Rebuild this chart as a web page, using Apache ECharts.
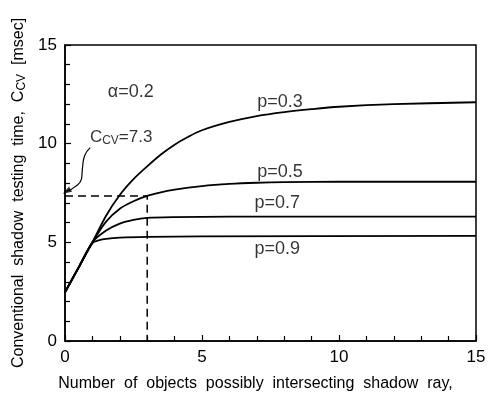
<!DOCTYPE html>
<html>
<head>
<meta charset="utf-8">
<script src="https://cdn.jsdelivr.net/npm/echarts@6/dist/echarts.min.js"></script>
<style>
  html, body { margin: 0; padding: 0; background: #fff; }
  #chart { width: 493px; height: 398px; }
</style>
</head>
<body>
<div id="chart"></div>
<script>
  // values
  const xP03 = [0, 0.5, 1, 1.5, 2, 2.5, 3, 3.5, 4, 4.5, 5, 6, 7, 8, 9, 10, 12, 15];
  const yP03 = [2.47, 3.74, 5.0, 6.35, 7.4, 8.2, 8.85, 9.45, 9.95, 10.35, 10.68, 11.1, 11.4, 11.6, 11.75, 11.87, 12.0, 12.1];
  const xP05 = [0, 0.5, 1, 1.5, 2, 2.5, 3, 3.5, 4, 5, 6, 7, 8, 10, 15];
  const yP05 = [2.47, 3.74, 5.0, 6.05, 6.7, 7.08, 7.35, 7.53, 7.67, 7.85, 7.96, 8.02, 8.05, 8.07, 8.07];
  const xP07 = [0, 0.5, 1, 1.5, 2, 2.5, 3, 4, 6, 15];
  const yP07 = [2.47, 3.73, 5.0, 5.6, 5.95, 6.14, 6.24, 6.28, 6.3, 6.3];
  const xP09 = [0, 0.5, 1, 1.25, 1.5, 2, 3, 5, 15];
  const yP09 = [2.47, 3.72, 4.96, 5.11, 5.18, 5.24, 5.28, 5.3, 5.33];

  const ccv = 7.35;       // C_CV read at n = 3
  const nMark = 3;
  const leaderX = [0.92, 0.72, 0.64, 0.6, 0.4, 0.06];
  const leaderY = [9.8, 9.4, 8.8, 8.2, 7.85, 7.58];

  // annotation texts and their data positions
  const notes = [
    { x: 2.4, y: 12.6, text: 'α=0.2' },
    { x: 7.85, y: 12.1, text: 'p=0.3' },
    { x: 7.85, y: 8.55, text: 'p=0.5' },
    { x: 7.75, y: 6.97, text: 'p=0.7' },
    { x: 7.75, y: 4.65, text: 'p=0.9' }
  ];

  const zip = (xs, ys) => xs.map((x, i) => [x, ys[i]]);
  const font = '"Liberation Sans", Arial, sans-serif';

  const curve = (name, xs, ys) => ({
    name: name,
    type: 'line',
    data: zip(xs, ys),
    smooth: 0.3,
    showSymbol: false,
    silent: true,
    lineStyle: { color: '#000', width: 1.8 }
  });

  const chart = echarts.init(document.getElementById('chart'), null, { renderer: 'canvas' });

  chart.setOption({
    animation: false,
    backgroundColor: '#fff',
    grid: {
      left: 65, right: 17, top: 45, bottom: 57,
      show: true, borderColor: '#000', borderWidth: 1.5, backgroundColor: 'transparent'
    },
    xAxis: {
      type: 'value', min: 0, max: 15, interval: 5,
      name: 'Number  of  objects  possibly  intersecting  shadow  ray,',
      nameLocation: 'middle', nameGap: 35,
      nameTextStyle: { color: '#000', fontSize: 16, fontFamily: font, padding: [0, 30, 0, 0] },
      axisLine: { show: true, lineStyle: { color: '#000', width: 1.5 } },
      axisTick: { show: true, inside: true, length: 6, lineStyle: { color: '#000', width: 1.2 } },
      minorTick: { show: true, splitNumber: 5, length: 5, lineStyle: { color: '#000', width: 1.2 } },
      axisLabel: { color: '#000', fontSize: 17, fontFamily: font, margin: 8 },
      splitLine: { show: false }
    },
    yAxis: {
      type: 'value', min: 0, max: 15, interval: 5,
      name: 'Conventional  shadow  testing  time,  C{sub|CV}  [msec]',
      nameLocation: 'middle', nameGap: 37,
      nameTextStyle: {
        color: '#000', fontSize: 16, fontFamily: font, padding: [0, 0, 0, 0],
        rich: { sub: { fontSize: 12, fontFamily: font, color: '#000', verticalAlign: 'bottom', padding: [5, 0, 0, 0] } }
      },
      axisLine: { show: true, lineStyle: { color: '#000', width: 1.5 } },
      axisTick: { show: true, inside: true, length: 6, lineStyle: { color: '#000', width: 1.2 } },
      minorTick: { show: true, splitNumber: 5, length: 5, lineStyle: { color: '#000', width: 1.2 } },
      axisLabel: { color: '#000', fontSize: 17, fontFamily: font, margin: 8 },
      splitLine: { show: false }
    },
    series: [
      curve('p=0.3', xP03, yP03),
      curve('p=0.5', xP05, yP05),
      curve('p=0.7', xP07, yP07),
      curve('p=0.9', xP09, yP09),
      {
        name: 'ccv-guide',
        type: 'line',
        data: [[0, ccv], [nMark, ccv], [nMark, 0]],
        showSymbol: false,
        silent: true,
        lineStyle: { color: '#000', width: 1.5, type: [8, 5] }
      },
      {
        name: 'leader',
        type: 'line',
        data: zip(leaderX, leaderY),
        smooth: 0.5,
        showSymbol: false,
        silent: true,
        lineStyle: { color: '#000', width: 1.2 }
      },
      {
        name: 'arrow',
        type: 'scatter',
        data: [[leaderX[leaderX.length - 1], leaderY[leaderY.length - 1]]],
        symbol: 'triangle',
        symbolSize: [6, 9],
        symbolRotate: 120,
        itemStyle: { color: '#000' },
        silent: true
      },
      {
        name: 'ccv-label',
        type: 'scatter',
        data: [[2.05, 10.3]],
        symbolSize: 0,
        silent: true,
        label: {
          show: true, position: 'inside',
          formatter: 'C{sub|CV}{n|=7.3}',
          color: '#000', fontSize: 17, fontFamily: font,
          rich: {
            sub: { fontSize: 12, fontFamily: font, color: '#000', padding: [6, 0, 0, 0] },
            n: { fontSize: 17, fontFamily: font, color: '#000' }
          }
        }
      },
      {
        name: 'notes',
        type: 'scatter',
        data: notes.map(n => ({ value: [n.x, n.y], name: n.text })),
        symbolSize: 0,
        silent: true,
        label: {
          show: true, position: 'inside', formatter: '{b}',
          color: '#000', fontSize: 18, fontFamily: font
        }
      }
    ]
  });
</script>
</body>
</html>
